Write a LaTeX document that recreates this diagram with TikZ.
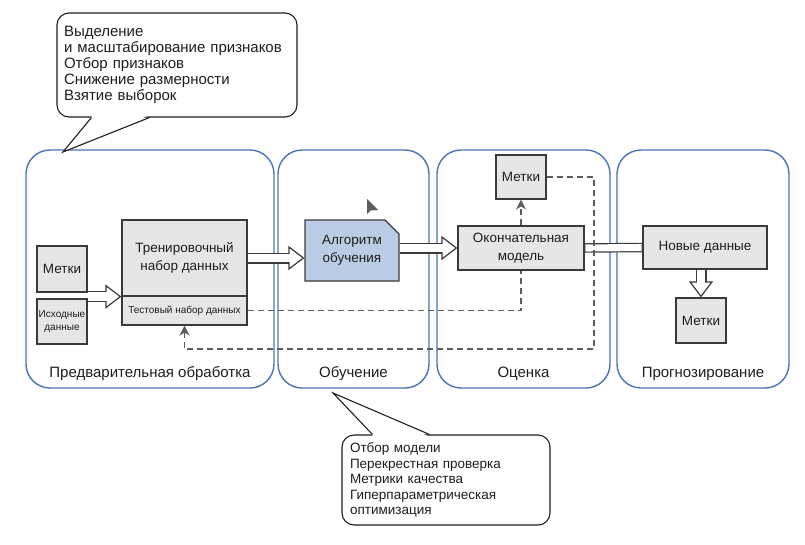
\documentclass[tikz,border=0pt]{standalone}
\usepackage{fontspec}
\setmainfont{Liberation Sans}
\usetikzlibrary{arrows.meta,shapes.misc}

\definecolor{panelblue}{HTML}{4A74B4}
\definecolor{boxgray}{HTML}{E6E6E6}
\definecolor{edgegray}{HTML}{3A3A3A}
\definecolor{dashgray}{HTML}{5C5C5C}
\definecolor{algblue}{HTML}{BACDE5}
\definecolor{ink}{HTML}{1E1E1E}

\tikzset{
  panel/.style={draw=panelblue, line width=1.4pt, rounded corners=24pt, minimum height=238pt, inner sep=0pt},
  plabel/.style={font=\fontsize{15}{17}\selectfont, text=ink},
  box/.style={draw=edgegray, fill=boxgray, line width=1.2pt, align=center, inner sep=1pt, text=ink, font=\fontsize{13.5}{18}\selectfont},
  small/.style={font=\fontsize{10}{13}\selectfont},
  hollow/.style={line width=11pt, draw=edgegray, -{Triangle[open, fill=white, line width=1.2pt, length=16pt, width=24pt]}},
  hollowin/.style={line width=8.6pt, draw=white, shorten <=0.8pt, shorten >=14pt},
  band/.style={line width=9.5pt, draw=edgegray},
  bandin/.style={line width=7.1pt, draw=white, shorten <=0.8pt, shorten >=0.8pt},
  dashline/.style={draw=dashgray, line width=1.5pt, dash pattern=on 6pt off 4pt},
  dashtip/.style={-{Stealth[length=10pt, width=10pt]}},
  note/.style={draw=ink, fill=white, line width=1.1pt, rounded corners=12pt, align=left, inner sep=0pt, text=ink, font=\fontsize{13.5}{15.5}\selectfont},
}

\begin{document}
\begin{tikzpicture}[x=1pt, y=-1pt]
    \useasboundingbox (0,0) rectangle (805,544);

    % stages
    \node[panel, minimum width=248pt] (pre) at (150,269) {};
    \node[panel, minimum width=151pt] (learn) at (353.5,269) {};
    \node[panel, minimum width=173pt] (eval) at (523.5,269) {};
    \node[panel, minimum width=172pt] (pred) at (703,269) {};

    \node[plabel] (preL) at ([yshift=15pt]pre.south) {Предварительная обработка};
    \node[plabel] (learnL) at ([yshift=15pt]learn.south) {Обучение};
    \node[plabel] (evalL) at ([yshift=15pt]eval.south) {Оценка};
    \node[plabel] (predL) at ([yshift=15pt]pred.south) {Прогнозирование};

    \node[box, minimum width=50pt, minimum height=46pt] (lblA) at (62,269) {Метки};
    \node[box, small, minimum width=50pt, minimum height=45pt] (raw) at (62,321.5) {Исходные\\данные};
    \node[box, minimum width=125pt, minimum height=76pt] (trn) at (184.5,258) {Тренировочный\\набор данных};
    \node[box, small, minimum width=125pt, minimum height=29pt] (tst) at (184.5,310.5) {Тестовый набор данных};
    \node[box, fill=algblue, chamfered rectangle, chamfered rectangle corners=north east,
          chamfered rectangle xsep=7pt, chamfered rectangle ysep=7pt,
          minimum width=94pt, minimum height=61pt] (alg) at (352,250.5) {Алгоритм\\обучения};
    \node[box, minimum width=126pt, minimum height=44pt] (mdl) at (521,248) {Окончательная\\модель};
    \node[box, minimum width=50pt, minimum height=44pt] (lblB) at (521,177) {Метки};
    \node[box, minimum width=124pt, minimum height=43pt] (new) at (705,247.5) {Новые данные};
    \node[box, minimum width=50pt, minimum height=45pt] (lblC) at (701,320.5) {Метки};

    \draw[hollow] (lblA.east |- trn.south) -- (trn.south west);
    \draw[hollowin] (lblA.east |- trn.south) -- (trn.south west);
    \draw[hollow] (trn.east) -- (alg.west |- trn.east);
    \draw[hollowin] (trn.east) -- (alg.west |- trn.east);
    \draw[hollow] (alg.east |- mdl.west) -- (mdl.west);
    \draw[hollowin] (alg.east |- mdl.west) -- (mdl.west);
    \draw[band] (mdl.east) -- (new.west);
    \draw[bandin] (mdl.east) -- (new.west);
    \draw[hollow] (lblC.north |- new.south) -- (lblC.north);
    \draw[hollowin] (lblC.north |- new.south) -- (lblC.north);

    \coordinate (turn) at (594,349);
    \draw[dashline] (tst.east) -| (mdl.south);
    \draw[dashline, dashtip] (mdl.north) -- (lblB.south);
    \draw[dashline, dashtip] (lblB.east) -| (turn) -| (tst.south);

    % pointer
    \fill[dashgray] (367,199) -- (367,214) -- (370.5,210.5) -- (378,210) -- cycle;

    % callouts
    \node[note, font=\fontsize{15}{16}\selectfont, minimum width=240pt, minimum height=104pt, text width=226pt] (noteA) at (177,65)
        {Выделение\\и масштабирование признаков\\Отбор признаков\\Снижение размерности\\Взятие выборок};
    \coordinate (tipA) at (63,152);
    \fill[white] ([xshift=36pt, yshift=2pt]noteA.south west) -- (tipA) -- ([xshift=92pt, yshift=2pt]noteA.south west) -- cycle;
    \draw[line width=1.1pt, ink] ([xshift=35pt]noteA.south west) -- (tipA) -- ([xshift=93pt]noteA.south west);

    \node[note, minimum width=208pt, minimum height=90pt, text width=192pt] (noteB) at (446,480)
        {Отбор модели\\Перекрестная проверка\\Метрики качества\\Гиперпараметрическая\\оптимизация};
    \coordinate (tipB) at (333,393);
    \fill[white] ([xshift=32pt, yshift=-2pt]noteB.north west) -- (tipB) -- ([xshift=87pt, yshift=-2pt]noteB.north west) -- cycle;
    \draw[line width=1.1pt, ink] ([xshift=31pt]noteB.north west) -- (tipB) -- ([xshift=88pt]noteB.north west);

\end{tikzpicture}
\end{document}
